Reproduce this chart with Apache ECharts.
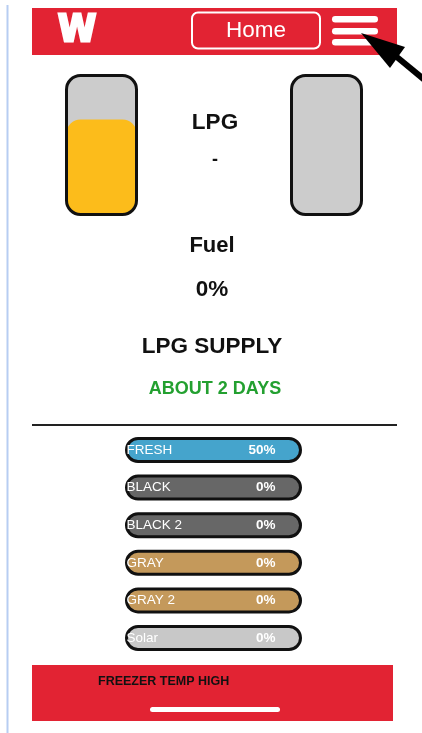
<!DOCTYPE html>
<html>
<head>
<meta charset="utf-8">
<script src="https://cdn.jsdelivr.net/npm/echarts@6/dist/echarts.min.js"></script>
<style>
html,body{margin:0;padding:0;background:#fff;}
#main{width:422px;height:733px;}
</style>
</head>
<body>
<div id="main"></div>
<script>
// tank levels (percent)
var tankNames = ['LPG', 'Fuel'];
var tankValues = [69, 0];
// holding tanks
var levelNames = ['FRESH', 'BLACK', 'BLACK 2', 'GRAY', 'GRAY 2', 'Solar'];
var levelValues = [50, 0, 0, 0, 0, 0];
var levelColors = ['#45a4cc', '#676767', '#676767', '#c4995b', '#c4995b', '#c8c8c8'];

var font = '"Liberation Sans", Arial, sans-serif';
var red = '#e22333';

var chart = echarts.init(document.getElementById('main'));

function tankGrid(left) {
    return {left: left, top: 74, width: 73, height: 142};
}
var tankBorder = {borderColor: 'rgba(0,0,0,0)', borderWidth: 3, borderRadius: 14};

option = {
    animation: false,
    grid: [tankGrid(65), tankGrid(290), {left: 125, top: 431.2, width: 177, height: 225.6}],
    xAxis: [
        {gridIndex: 0, type: 'category', data: [tankNames[0]], show: false},
        {gridIndex: 1, type: 'category', data: [tankNames[1]], show: false},
        {gridIndex: 2, type: 'value', min: 0, max: 100, show: false}
    ],
    yAxis: [
        {gridIndex: 0, type: 'value', min: 0, max: 100, show: false},
        {gridIndex: 1, type: 'value', min: 0, max: 100, show: false},
        {gridIndex: 2, type: 'category', data: levelNames, inverse: true, show: false}
    ],
    series: [
        // tank backgrounds
        {type: 'bar', xAxisIndex: 0, yAxisIndex: 0, barWidth: 73, z: 1, silent: true,
            data: [100], itemStyle: Object.assign({color: '#cccccc'}, tankBorder)},
        {type: 'bar', xAxisIndex: 1, yAxisIndex: 1, barWidth: 73, z: 1, silent: true,
            data: [100], itemStyle: Object.assign({color: '#cccccc'}, tankBorder)},
        // tank fill
        {type: 'bar', xAxisIndex: 0, yAxisIndex: 0, barWidth: 73, barGap: '-100%', z: 2,
            data: [tankValues[0]], itemStyle: Object.assign({color: '#fcbc1b'}, tankBorder)},
        {type: 'bar', xAxisIndex: 1, yAxisIndex: 1, barWidth: 73, barGap: '-100%', z: 2,
            data: [tankValues[1]], itemStyle: Object.assign({color: '#fcbc1b'}, tankBorder)},
        // tank outlines
        {type: 'bar', xAxisIndex: 0, yAxisIndex: 0, barWidth: 73, barGap: '-100%', z: 3, silent: true,
            data: [100], itemStyle: {color: 'rgba(0,0,0,0)', borderColor: '#111', borderWidth: 3, borderRadius: 14}},
        {type: 'bar', xAxisIndex: 1, yAxisIndex: 1, barWidth: 73, barGap: '-100%', z: 3, silent: true,
            data: [100], itemStyle: {color: 'rgba(0,0,0,0)', borderColor: '#111', borderWidth: 3, borderRadius: 14}},
        // level capsules
        {type: 'bar', xAxisIndex: 2, yAxisIndex: 2, barWidth: 26,
            data: levelNames.map(function (n, i) {
                return {value: 100, itemStyle: {color: levelColors[i]}};
            }),
            itemStyle: {borderColor: '#111', borderWidth: 3, borderRadius: 12},
            label: {
                show: true, position: 'insideLeft', distance: 1.5,
                formatter: function (p) {
                    return '{n|' + p.name + '}{v|' + levelValues[p.dataIndex] + '%}';
                },
                rich: {
                    n: {color: '#fff', fontSize: 13.5, fontFamily: font, width: 124},
                    v: {color: '#fff', fontSize: 13.5, fontWeight: 'bold', fontFamily: font, width: 25, align: 'right'}
                }
            }
        }
    ],
    graphic: [
        // left border line
        {type: 'rect', shape: {x: 6.5, y: 5, width: 2, height: 728}, style: {fill: '#b7cdf2'}},
        // header
        {type: 'rect', shape: {x: 32, y: 8, width: 365, height: 47}, style: {fill: red}},
        {type: 'text', x: 77, y: 31, scaleX: 1.05, scaleY: 1.15, style: {text: 'W', fill: '#fff', stroke: '#fff', lineWidth: 2.5, font: 'bold 33px "DejaVu Sans", sans-serif', align: 'center', verticalAlign: 'middle'}},
        {type: 'rect', shape: {x: 192, y: 12.5, width: 128, height: 36, r: 6}, style: {fill: 'none', stroke: '#fff', lineWidth: 2}},
        {type: 'text', x: 256, y: 31, style: {text: 'Home', fill: '#fff', font: '22.5px ' + font, align: 'center', verticalAlign: 'middle'}},
        {type: 'rect', shape: {x: 332, y: 16, width: 46, height: 6.5, r: 3.2}, style: {fill: '#fff'}},
        {type: 'rect', shape: {x: 332, y: 28, width: 46, height: 6.5, r: 3.2}, style: {fill: '#fff'}},
        {type: 'rect', shape: {x: 332, y: 39, width: 46, height: 6.5, r: 3.2}, style: {fill: '#fff'}},
        // arrow
        {type: 'line', shape: {x1: 392, y1: 53, x2: 432, y2: 86}, style: {stroke: '#000', lineWidth: 6}},
        {type: 'polygon', shape: {points: [[361, 33], [405, 47], [390, 68]]}, style: {fill: '#000'}},
        // tank texts
        {type: 'text', x: 215, y: 123, style: {text: tankNames[0], fill: '#111', font: 'bold 22.5px ' + font, align: 'center', verticalAlign: 'middle'}},
        {type: 'text', x: 215, y: 160, style: {text: '-', fill: '#111', font: 'bold 18px ' + font, align: 'center', verticalAlign: 'middle'}},
        {type: 'text', x: 212, y: 246, style: {text: tankNames[1], fill: '#111', font: 'bold 22px ' + font, align: 'center', verticalAlign: 'middle'}},
        {type: 'text', x: 212, y: 290, style: {text: tankValues[1] + '%', fill: '#111', font: 'bold 22.5px ' + font, align: 'center', verticalAlign: 'middle'}},
        {type: 'text', x: 212, y: 347, style: {text: 'LPG SUPPLY', fill: '#111', font: 'bold 22.5px ' + font, align: 'center', verticalAlign: 'middle'}},
        {type: 'text', x: 215, y: 389, style: {text: 'ABOUT 2 DAYS', fill: '#23a030', font: 'bold 18px ' + font, align: 'center', verticalAlign: 'middle'}},
        // separator
        {type: 'rect', shape: {x: 32, y: 424, width: 365, height: 2}, style: {fill: '#222'}},
        // footer
        {type: 'rect', shape: {x: 32, y: 665, width: 361, height: 56}, style: {fill: red}},
        {type: 'text', x: 98, y: 682, style: {text: 'FREEZER TEMP HIGH', fill: '#111', font: 'bold 12.5px ' + font, verticalAlign: 'middle'}},
        {type: 'rect', shape: {x: 150, y: 707, width: 130, height: 5, r: 2.5}, style: {fill: '#fff'}}
    ]
};
chart.setOption(option);
</script>
</body>
</html>
